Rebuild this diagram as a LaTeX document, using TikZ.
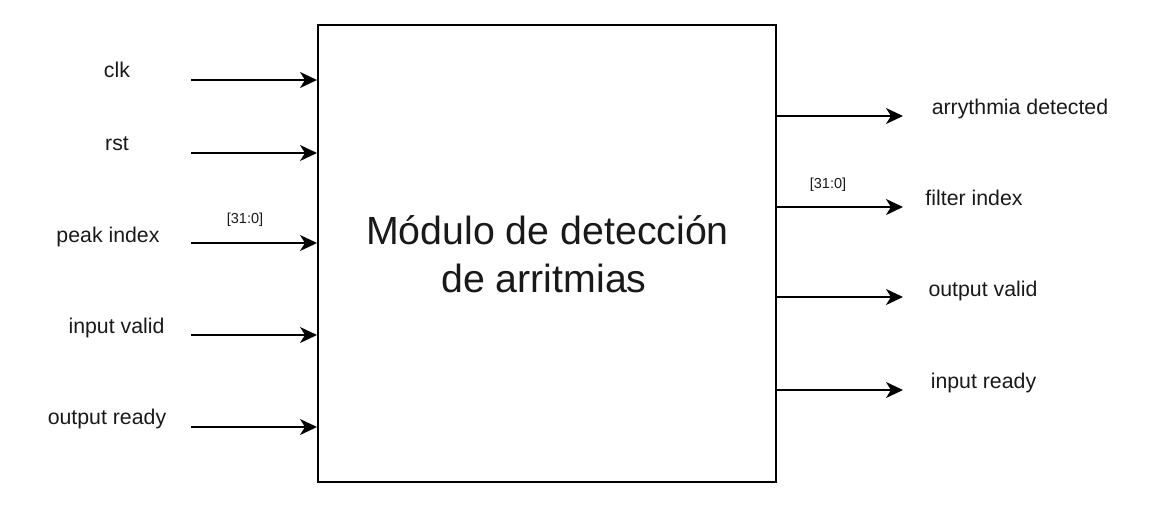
\documentclass[tikz,border=0pt]{standalone}
\usepackage{fontspec}
\setmainfont{Liberation Sans}
\usetikzlibrary{arrows.meta}
\begin{document}
\begin{tikzpicture}[x=1pt,y=-1pt,
  sig/.style={line width=1.6pt, -{Stealth[length=17pt,width=16pt,inset=5pt]}},
  lbl/.style={anchor=base, inner sep=0pt, font=\fontsize{21.3}{25}\selectfont, text=black!90},
  bus/.style={anchor=base, inner sep=0pt, font=\fontsize{14.5}{17}\selectfont, text=black!90},
  mainbox/.style={draw, line width=2pt, fill=white, minimum width=458pt, minimum height=457pt, inner sep=0pt}]
\useasboundingbox (0,0) rectangle (1160,515);
\node[mainbox] (box) at (547,253.5) {};
\node[anchor=base, inner sep=0pt, font=\fontsize{39.3}{48}\selectfont, text=black!90] (t1) at (547.5,244) {Módulo de detección};
\node[anchor=base, inner sep=0pt, font=\fontsize{39.3}{48}\selectfont, text=black!90] (t2) at (544,292) {de arritmias};
% inputs
\coordinate (iclk) at (191,80);
\coordinate (irst) at (191,153);
\coordinate (ipeak) at (191,243);
\coordinate (ivalid) at (191,335);
\coordinate (iready) at (191,427);
\foreach \c in {iclk,irst,ipeak,ivalid,iready}{
  \draw[sig] (\c) -- (\c -| box.west);
}
\node[lbl] (lclk) at (117,77) {clk};
\node[lbl] (lrst) at (117,150) {rst};
\node[lbl] (lpeak) at (108,242) {peak index};
\node[bus] (bpeak) at (245,223) {[31:0]};
\node[lbl] (lvalid) at (116.5,333) {input valid};
\node[lbl] (lready) at (107,424) {output ready};
% outputs
\coordinate (oarr) at (903,116);
\coordinate (ofilt) at (903,207);
\coordinate (oval) at (903,297);
\coordinate (ordy) at (903,390);
\foreach \c in {oarr,ofilt,oval,ordy}{
  \draw[sig] (\c -| box.east) -- (\c);
}
\node[lbl] (larr) at (1020,114) {arrythmia detected};
\node[lbl] (lfilt) at (974,205) {filter index};
\node[bus] (bfilt) at (828,188) {[31:0]};
\node[lbl] (loval) at (983,296) {output valid};
\node[lbl] (lordy) at (983.5,388) {input ready};
\end{tikzpicture}
\end{document}
